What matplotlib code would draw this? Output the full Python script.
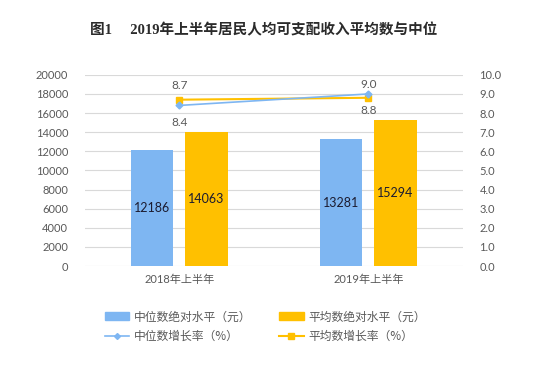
import matplotlib
matplotlib.use("Agg")
import matplotlib.pyplot as plt
import numpy as np
from matplotlib.lines import Line2D
from matplotlib.patches import Patch

plt.rcParams['font.family'] = ['Lato', 'Noto Sans CJK SC', 'DejaVu Sans']

categories = ["2018年上半年", "2019年上半年"]
median_values = [12186, 13281]
mean_values = [14063, 15294]
median_growth = [8.4, 9.0]
mean_growth = [8.7, 8.8]
left_ticks = [0, 2000, 4000, 6000, 8000, 10000, 12000, 14000, 16000, 18000, 20000]
right_ticks = [0.0, 1.0, 2.0, 3.0, 4.0, 5.0, 6.0, 7.0, 8.0, 9.0, 10.0]
title = "图1　 2019年上半年居民人均可支配收入平均数与中位"
legend_labels = ["中位数绝对水平（元）", "中位数增长率（%）", "平均数绝对水平（元）", "平均数增长率（%）"]

blue = "#7EB6F2"
orange = "#FFC000"
gray = "#595959"

fig = plt.figure(figsize=(5.55, 3.65), dpi=100)
ax = fig.add_axes([0.153, 0.271, 0.681, 0.524])
ax2 = ax.twinx()

x = np.arange(len(categories))
w = 0.225
off = 0.144
ax.bar(x - off, median_values, width=w, color=blue, zorder=2)
ax.bar(x + off, mean_values, width=w, color=orange, zorder=2)
for xi, v in zip(x, median_values):
    ax.text(xi - off, v / 2, str(v), ha='center', va='center', fontsize=9, color="#1c1c30")
for xi, v in zip(x, mean_values):
    ax.text(xi + off, v / 2, str(v), ha='center', va='center', fontsize=9, color="#1c1c30")

ax.set_xlim(-0.5, 1.5)
ax.set_ylim(0, 20000)
ax.set_yticks(left_ticks)
ax.set_yticklabels([str(t) for t in left_ticks])
ax.set_xticks(x)
ax.set_xticklabels(categories)
ax.grid(axis='y', color="#D9D9D9", linewidth=0.8, zorder=0)
ax.set_axisbelow(True)
for s in ax.spines.values():
    s.set_visible(False)
for s in ax2.spines.values():
    s.set_visible(False)
ax.tick_params(axis='both', length=0, labelsize=8, labelcolor=gray)
ax.tick_params(axis='y', pad=12)
ax.tick_params(axis='x', pad=6)

ax2.plot(x, mean_growth, color=orange, marker='s', markersize=5, linewidth=1.5, zorder=3)
ax2.plot(x, median_growth, color=blue, marker='D', markersize=3.5, linewidth=1.2, zorder=4)
ax2.set_ylim(0, 10)
ax2.set_yticks(right_ticks)
ax2.set_yticklabels([f"{t:.1f}" for t in right_ticks])
ax2.tick_params(axis='y', length=0, labelsize=8, labelcolor=gray, pad=12)

# data labels
ax2.annotate(f"{mean_growth[0]:.1f}", (x[0], mean_growth[0]), xytext=(0, 6), textcoords='offset points',
             ha='center', va='bottom', fontsize=8.5, color=gray)
ax2.annotate(f"{median_growth[0]:.1f}", (x[0], median_growth[0]), xytext=(0, -8), textcoords='offset points',
             ha='center', va='top', fontsize=8.5, color=gray)
ax2.annotate(f"{median_growth[1]:.1f}", (x[1], median_growth[1]), xytext=(0, 3), textcoords='offset points',
             ha='center', va='bottom', fontsize=8.5, color=gray)
ax2.annotate(f"{mean_growth[1]:.1f}", (x[1], mean_growth[1]), xytext=(0, -5), textcoords='offset points',
             ha='center', va='top', fontsize=8.5, color=gray)

fig.text(0.476, 0.918, title, ha='center', va='center', fontsize=10.5, fontweight='bold',
         color="#2b2b2b", family=['Liberation Serif', 'Noto Sans CJK SC', 'DejaVu Sans'])

handles = [Patch(color=blue), Line2D([], [], color=blue, marker='D', markersize=3, linewidth=1.2),
           Patch(color=orange), Line2D([], [], color=orange, marker='s', markersize=4, linewidth=1.5)]
leg = fig.legend(handles, legend_labels, ncol=2, loc='center', bbox_to_anchor=(0.478, 0.105),
                 frameon=False, handlelength=2.1, handleheight=0.7, columnspacing=2.3,
                 handletextpad=0.4, labelspacing=0.55, prop={'family': ['Noto Sans CJK SC', 'DejaVu Sans'], 'size': 8.5})
for t in leg.get_texts():
    t.set_color(gray)

fig.savefig("out.png", dpi=100, facecolor='white')
